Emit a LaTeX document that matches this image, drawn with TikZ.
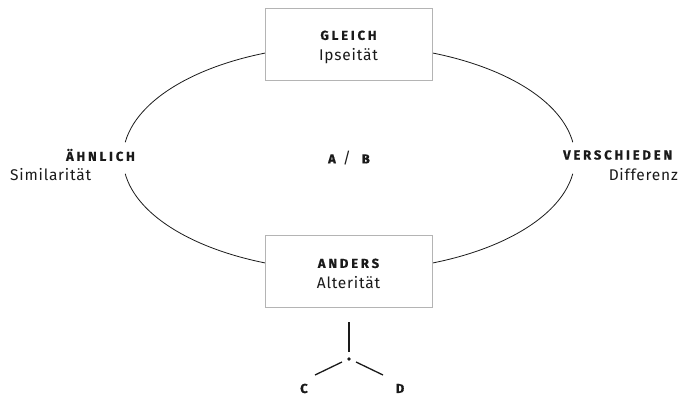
\documentclass[tikz,border=0pt]{standalone}
\usepackage{fontspec}
\setmainfont{Fira Sans}
\usepackage{xcolor}
\usepackage{tikz}
\usetikzlibrary{positioning}

\definecolor{boxgray}{HTML}{B4B4B4}
\definecolor{ink}{HTML}{1A1A1A}
\newcommand{\caps}[1]{{\fontsize{13}{16}\selectfont\bfseries\addfontfeature{LetterSpace=22,FakeBold=0.8}#1}}
\newcommand{\plain}{\fontsize{15.5}{20}\selectfont\addfontfeature{LetterSpace=5}}

\tikzset{
    pole/.style = {draw = boxgray, fill = white, line width = 0.9pt,
        minimum width = 167pt, minimum height = 72pt, align = center,
        text = ink, font = \plain},
    word/.style = {inner sep = 0pt, text = ink, font = \plain},
    leg/.style = {line width = 1.3pt, ink}
}

\begin{document}
\begin{tikzpicture}[x = 1pt, y = 1pt]
        \useasboundingbox (0, 0) rectangle (685, 396);

        % ellipse, open at both sides
        \draw[ink, line width = 0.8pt] (349, 238) ++(8:226 and 113)
            arc[start angle = 8, end angle = 172, x radius = 226, y radius = 113];
        \draw[ink, line width = 0.8pt] (349, 238) ++(188:226 and 113)
            arc[start angle = 188, end angle = 352, x radius = 226, y radius = 113];

        \node[pole] (gleich) at (348.5, 351.5)
            {\rule{0pt}{15pt}\caps{GLEICH}\\[1pt]Ipseität};
        \node[pole] (anders) at (348.5, 125)
            {\rule{0pt}{15pt}\caps{ANDERS}\\[1pt]Alterität};

        \node[word, anchor = east] (ahnlich) at (135, 241) {\caps{ÄHNLICH}};
        \node[word, anchor = west] (simil) at (10, 221) {Similarität};
        \node[word, anchor = west] (versch) at (563, 241) {\caps{VERSCHIEDEN}};
        \node[word, anchor = east] (diff) at (678, 221) {Differenz};

        \node[word] (ab) at (349, 238) {\caps{A}\hspace{7pt}/\hspace{11pt}\caps{B}};

        % tripod
        \coordinate (hub) at (349, 37);
        \fill[ink] (hub) circle (1.8pt);
        \draw[leg] ([yshift = 7pt]hub) -- ([yshift = 37pt]hub);
        \draw[leg] ([shift = {(-7pt, -3pt)}]hub) -- ([shift = {(-34pt, -16pt)}]hub);
        \draw[leg] ([shift = {(7pt, -3pt)}]hub) -- ([shift = {(34pt, -16pt)}]hub);

        \node[word, anchor = base] (c) at (304, 3) {\caps{C}};
        \node[word, anchor = base] (d) at (400, 3) {\caps{D}};
\end{tikzpicture}
\end{document}
